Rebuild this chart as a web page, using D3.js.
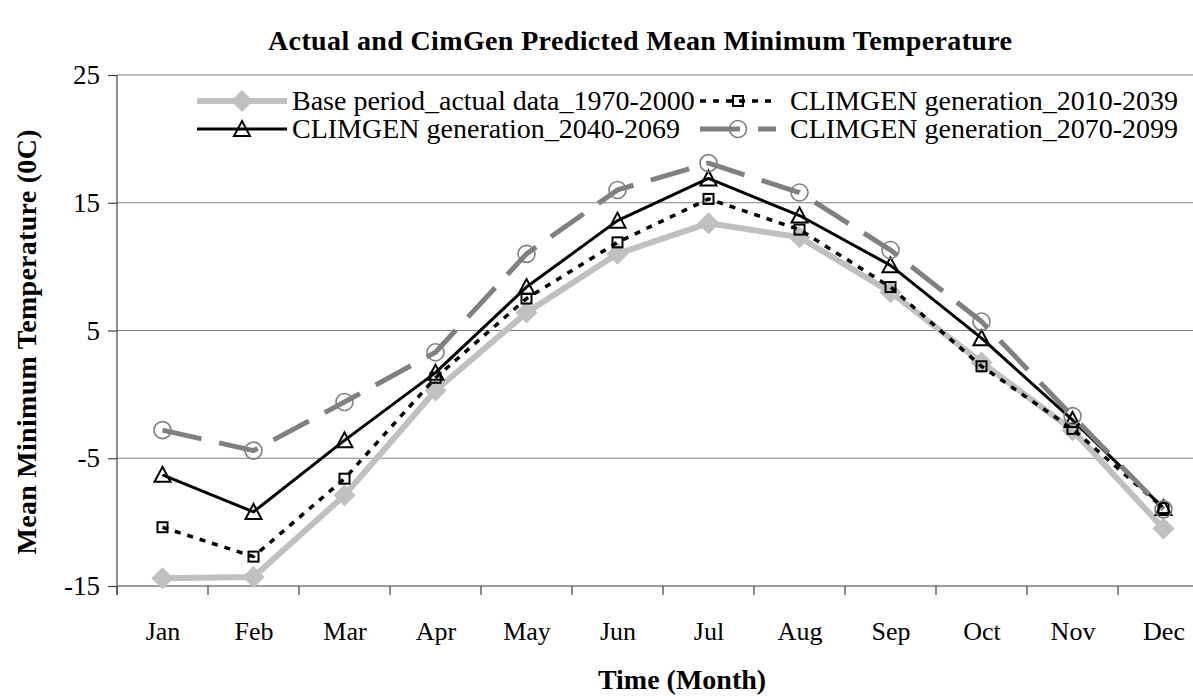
<!DOCTYPE html>
<html>
<head>
<meta charset="utf-8">
<script src="https://cdn.jsdelivr.net/npm/d3@7"></script>
<style>
  body { margin: 0; background: #fff; }
  text { font-family: "Liberation Serif", "Times New Roman", serif; fill: #000; }
</style>
</head>
<body>
<div id="chart"></div>
<script>
// chart values
var months = ['Jan', 'Feb', 'Mar', 'Apr', 'May', 'Jun', 'Jul', 'Aug', 'Sep', 'Oct', 'Nov', 'Dec'];
var base1970 = [-14.4, -14.3, -7.9, 0.3, 6.4, 11.0, 13.4, 12.3, 8.0, 2.5, -2.8, -10.5];
var gen2010 = [-10.4, -12.7, -6.6, 1.3, 7.5, 11.9, 15.3, 12.9, 8.4, 2.2, -2.7, -8.9];
var gen2040 = [-6.3, -9.2, -3.6, 1.7, 8.4, 13.6, 16.9, 14.0, 10.1, 4.4, -2.0, -8.9];
var gen2070 = [-2.8, -4.4, -0.6, 3.3, 11.0, 16.0, 18.1, 15.8, 11.3, 5.7, -1.7, -9.0];
var yTicks = [-15, -5, 5, 15, 25];
var seriesNames = ['Base period_actual data_1970-2000', 'CLIMGEN generation_2010-2039',
                   'CLIMGEN generation_2040-2069', 'CLIMGEN generation_2070-2099'];

// how each series looks
var series = [
  {name: seriesNames[0], values: base1970, color: '#c0c0c0', width: 6, dash: null, marker: 'diamond'},
  {name: seriesNames[1], values: gen2010, color: '#000', width: 3.5, dash: '6,7', marker: 'square'},
  {name: seriesNames[2], values: gen2040, color: '#000', width: 3, dash: null, marker: 'triangle'},
  {name: seriesNames[3], values: gen2070, color: '#808080', width: 5, dash: '40,18', marker: 'circle'}
];

var W = 1193, H = 696;
// plot box (top name avoided: window.top is read-only)
var plotLeft = 117, plotTop = 75, plotBottom = 586, bandW = 91;

var svg = d3.select('#chart').append('svg')
  .attr('width', W)
  .attr('height', H);

var x = d3.scalePoint()
  .domain(months)
  .range([plotLeft, plotLeft + bandW * months.length])
  .padding(0.5);

var y = d3.scaleLinear()
  .domain([-15, 25])
  .range([plotBottom, plotTop]);

// gridlines
svg.append('g')
  .selectAll('line')
  .data(yTicks.filter(function(d) { return d > -15; }))
  .enter().append('line')
  .attr('x1', plotLeft).attr('x2', W)
  .attr('y1', function(d) { return y(d); })
  .attr('y2', function(d) { return y(d); })
  .attr('stroke', '#808080')
  .attr('stroke-width', 1.2);

// y axis, plain hyphen for negatives like the original
var yAxis = svg.append('g')
  .attr('transform', 'translate(' + plotLeft + ',0)')
  .call(d3.axisLeft(y).tickValues(yTicks).tickFormat(function(d) { return String(d); })
    .tickSize(9).tickPadding(8));
yAxis.select('.domain').attr('stroke', '#404040').attr('stroke-width', 1.2)
  .attr('d', 'M0,' + y(25) + 'V' + (plotBottom + 9));
yAxis.selectAll('.tick line').attr('stroke', '#404040').attr('stroke-width', 1.2);
yAxis.selectAll('.tick text')
  .style('font-family', '"Liberation Serif", serif')
  .style('font-size', '27px')
  .attr('fill', '#000');

// x axis, ticks sit between the months
var xAxis = svg.append('g')
  .attr('transform', 'translate(0,' + plotBottom + ')')
  .call(d3.axisBottom(x).tickSize(0).tickPadding(36));
xAxis.select('.domain').attr('stroke', '#404040').attr('stroke-width', 1.2)
  .attr('d', 'M' + plotLeft + ',0H' + W);
xAxis.selectAll('.tick text')
  .style('font-family', '"Liberation Serif", serif')
  .style('font-size', '26px')
  .attr('fill', '#000');
xAxis.selectAll('line.sep')
  .data(d3.range(months.length + 1))
  .enter().append('line')
  .attr('class', 'sep')
  .attr('x1', function(i) { return plotLeft + i * bandW; })
  .attr('x2', function(i) { return plotLeft + i * bandW; })
  .attr('y1', 0).attr('y2', 9)
  .attr('stroke', '#404040')
  .attr('stroke-width', 1.2);

// marker shapes
function marker(g, s, cx, cy) {
  if (s.marker == 'diamond') {
    g.append('path')
      .attr('d', 'M' + cx + ',' + (cy - 11) + 'L' + (cx + 11) + ',' + cy + 'L' + cx + ',' + (cy + 11) + 'L' + (cx - 11) + ',' + cy + 'Z')
      .attr('fill', s.color);
  } else if (s.marker == 'square') {
    g.append('rect')
      .attr('x', cx - 5).attr('y', cy - 5)
      .attr('width', 10).attr('height', 10)
      .attr('fill', 'none')
      .attr('stroke', '#000')
      .attr('stroke-width', 2);
  } else if (s.marker == 'triangle') {
    g.append('path')
      .attr('d', 'M' + cx + ',' + (cy - 8) + 'L' + (cx + 8) + ',' + (cy + 7) + 'L' + (cx - 8) + ',' + (cy + 7) + 'Z')
      .attr('fill', 'none')
      .attr('stroke', '#000')
      .attr('stroke-width', 2);
  } else {
    g.append('circle')
      .attr('cx', cx).attr('cy', cy).attr('r', 8.5)
      .attr('fill', 'none')
      .attr('stroke', '#808080')
      .attr('stroke-width', 1.6);
  }
}

var line = d3.line()
  .x(function(d, i) { return x(months[i]); })
  .y(function(d) { return y(d); });

series.forEach(function(s) {
  var g = svg.append('g');
  g.append('path')
    .attr('d', line(s.values))
    .attr('fill', 'none')
    .attr('stroke', s.color)
    .attr('stroke-width', s.width)
    .attr('stroke-dasharray', s.dash)
    .attr('stroke-linejoin', 'round');
  s.values.forEach(function(v, i) {
    marker(g, s, x(months[i]), y(v));
  });
});

// legend, two columns of two rows
var legendPos = [[197, 287, 101], [700, 776, 101], [197, 287, 129], [700, 776, 129]];
series.forEach(function(s, i) {
  var p = legendPos[i];
  var g = svg.append('g');
  g.append('line')
    .attr('x1', p[0]).attr('x2', p[1])
    .attr('y1', p[2]).attr('y2', p[2])
    .attr('stroke', s.color)
    .attr('stroke-width', s.width)
    .attr('stroke-dasharray', s.dash);
  marker(g, s, (p[0] + p[1]) / 2, p[2]);
  g.append('text')
    .attr('x', p[1] + 5 + (i % 2) * 9)
    .attr('y', p[2] + 9)
    .style('font-size', '28px')
    .text(s.name);
});

// titles
svg.append('text')
  .attr('x', 640).attr('y', 50)
  .attr('text-anchor', 'middle')
  .attr('textLength', 744)
  .attr('lengthAdjust', 'spacing')
  .style('font-size', '28px')
  .style('font-weight', 'bold')
  .text('Actual and CimGen Predicted Mean Minimum Temperature');

svg.append('text')
  .attr('x', 682).attr('y', 689)
  .attr('text-anchor', 'middle')
  .style('font-size', '28px')
  .style('font-weight', 'bold')
  .text('Time (Month)');

svg.append('text')
  .attr('transform', 'translate(36,342) rotate(-90)')
  .attr('text-anchor', 'middle')
  .attr('textLength', 425)
  .attr('lengthAdjust', 'spacing')
  .style('font-size', '28px')
  .style('font-weight', 'bold')
  .text('Mean Minimum Temperature (0C)');
</script>
</body>
</html>
